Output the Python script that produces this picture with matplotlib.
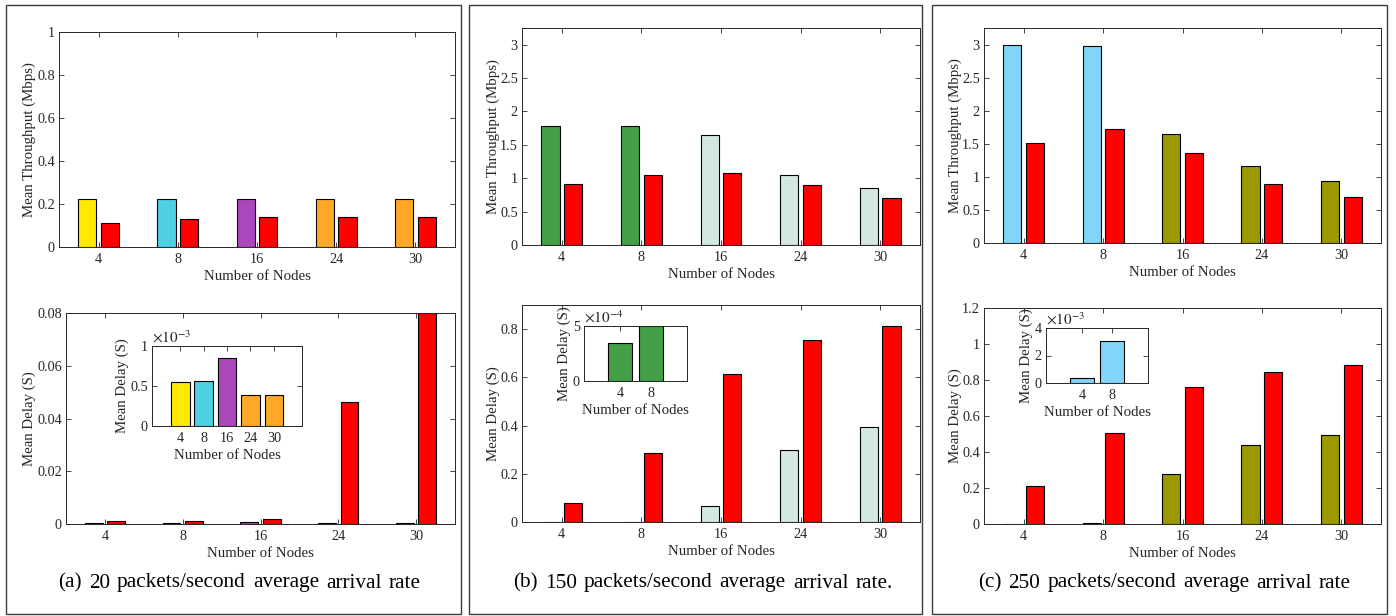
import matplotlib
matplotlib.use('Agg')
import matplotlib.pyplot as plt
import numpy as np
from matplotlib.patches import Rectangle
from matplotlib.ticker import FuncFormatter

# ---------------- data ----------------
nodes = ['4', '8', '16', '24', '30']

# (a) 20 packets/s
thr_a_col = [0.222, 0.222, 0.222, 0.222, 0.222]
thr_a_red = [0.113, 0.132, 0.138, 0.138, 0.141]
dly_a_col = [0.556e-3, 0.564e-3, 0.855e-3, 0.390e-3, 0.382e-3]
dly_a_red = [0.00114, 0.0013, 0.0018, 0.0463, 0.080]
col_a = ['#FFE900', '#4DD0E1', '#AB47BC', '#FFA726', '#FFA726']

# (b) 150 packets/s
thr_b_col = [1.784, 1.784, 1.654, 1.051, 0.857]
thr_b_red = [0.912, 1.041, 1.071, 0.892, 0.698]
dly_b_col = [3.5e-4, 5.0e-4, 0.066, 0.300, 0.396]
dly_b_red = [0.079, 0.288, 0.615, 0.753, 0.814]
col_b = ['#43A047', '#43A047', '#D3E8E2', '#D3E8E2', '#D3E8E2']

# (c) 250 packets/s
thr_c_col = [2.995, 2.980, 1.651, 1.168, 0.931]
thr_c_red = [1.510, 1.726, 1.364, 0.896, 0.700]
dly_c_col = [0.39e-3, 3.07e-3, 0.278, 0.439, 0.494]
dly_c_red = [0.209, 0.507, 0.761, 0.843, 0.881]
col_c = ['#81D4FA', '#81D4FA', '#999900', '#999900', '#999900']

red = '#FF0000'

captions = ['(a) 20 packets/second average arrival rate',
            '(b) 150 packets/second average arrival rate.',
            '(c) 250 packets/second average arrival rate']

# ---------------- style ----------------
plt.rcParams['font.family'] = ['Liberation Serif', 'DejaVu Serif']
plt.rcParams['mathtext.fontset'] = 'stix'
TXT = '#262626'

W, H = 1396, 616
fig = plt.figure(figsize=(W / 100, H / 100), dpi=100)


def rect(x0, y0, x1, y1):
    return [x0 / W, 1 - y1 / H, (x1 - x0) / W, (y1 - y0) / H]


def style(ax):
    ax.tick_params(direction='in', top=True, right=True, length=3.6, width=0.6,
                   labelsize=10.3, colors=TXT)
    ax.tick_params(axis='x', pad=4.5)
    ax.tick_params(axis='y', pad=3)
    for s in ax.spines.values():
        s.set_linewidth(0.7)
        s.set_color(TXT)
    ax.yaxis.set_major_formatter(FuncFormatter(lambda v, p: f'{v:g}'))


def labels(ax, ylabel, ylx):
    ax.set_xlabel('Number of Nodes', fontsize=10.7, color=TXT, labelpad=2.5)
    ax.set_ylabel(ylabel, fontsize=10.7, color=TXT)
    ax.yaxis.set_label_coords(ylx, 0.5)
    ax.yaxis.label.set_verticalalignment('center')


def grouped(box, col, rd, colors, ylim, yticks, ylabel, ylx):
    ax = fig.add_axes(rect(*box))
    x = np.arange(1, len(nodes) + 1)
    w, off = 0.2286, 0.143
    ax.bar(x - off, col, w, color=colors, edgecolor='black', linewidth=0.8, zorder=2)
    ax.bar(x + off, rd, w, color=red, edgecolor='black', linewidth=0.8, zorder=2)
    ax.set_xlim(0.5, 5.5)
    ax.set_ylim(*ylim)
    ax.set_yticks(yticks)
    ax.set_xticks(x)
    ax.set_xticklabels(nodes)
    style(ax)
    labels(ax, ylabel, ylx)
    return ax


def inset(box, vals, colors, xl, ylim, yticks, scale, exp, ylx):
    ax = fig.add_axes(rect(*box))
    x = np.arange(1, len(vals) + 1)
    ax.bar(x, vals, 0.8, color=colors, edgecolor='black', linewidth=0.8, zorder=2)
    ax.set_xlim(-0.2, len(vals) + 1.2)
    ax.set_ylim(*ylim)
    ax.set_yticks(yticks)
    ax.set_xticks(x)
    ax.set_xticklabels(xl)
    style(ax)
    ax.yaxis.set_major_formatter(FuncFormatter(lambda v, p: f'{v / scale:g}'))
    labels(ax, 'Mean Delay (S)', ylx)
    ax.text(0.0, 1.01, r'$\times10^{%d}$' % exp, transform=ax.transAxes,
            fontsize=11, color=TXT, ha='left', va='bottom')
    return ax


# panel frames
for x0, x1 in [(6, 461), (469, 922), (932, 1387)]:
    fig.patches.append(Rectangle((x0 / W, 1 - 614 / H), (x1 - x0) / W, (614 - 5) / H,
                                 transform=fig.transFigure, fill=False,
                                 edgecolor='#3a3a3a', linewidth=1.0))

# (a)
grouped((59, 32, 455, 247), thr_a_col, thr_a_red, col_a, (0, 1),
        [0, 0.2, 0.4, 0.6, 0.8, 1], 'Mean Throughput (Mbps)', -0.076)
grouped((66, 313, 455, 524), dly_a_col, dly_a_red, col_a, (0, 0.08),
        [0, 0.02, 0.04, 0.06, 0.08], 'Mean Delay (S)', -0.095)
inset((152, 346, 302, 426), dly_a_col, col_a, nodes, (0, 1e-3),
      [0, 0.5e-3, 1e-3], 1e-3, -3, -0.2)

# (b)
grouped((522, 28, 920, 245), thr_b_col, thr_b_red, col_b, (0, 3.25),
        [0, 0.5, 1, 1.5, 2, 2.5, 3], 'Mean Throughput (Mbps)', -0.073)
grouped((522, 305, 920, 522), dly_b_col, dly_b_red, col_b, (0, 0.9),
        [0, 0.2, 0.4, 0.6, 0.8], 'Mean Delay (S)', -0.073)
inset((584, 326, 687, 381), dly_b_col[:2], col_b[:2], nodes[:2], (0, 5e-4),
      [0, 5e-4], 1e-4, -4, -0.19)

# (c)
grouped((984, 28, 1381, 243), thr_c_col, thr_c_red, col_c, (0, 3.25),
        [0, 0.5, 1, 1.5, 2, 2.5, 3], 'Mean Throughput (Mbps)', -0.073)
grouped((984, 308, 1381, 524), dly_c_col, dly_c_red, col_c, (0, 1.2),
        [0, 0.2, 0.4, 0.6, 0.8, 1, 1.2], 'Mean Delay (S)', -0.073)
inset((1046, 328, 1148, 383), dly_c_col[:2], col_c[:2], nodes[:2], (0, 4e-3),
      [0, 2e-3, 4e-3], 1e-3, -3, -0.19)

# captions, justified between the given pixel extents
fig.canvas.draw()
renderer = fig.canvas.get_renderer()
for cap, (cx0, cx1) in zip(captions, [(58, 421), (513, 893), (978, 1351)]):
    words = cap.split(' ')
    texts = [fig.text(0, 1 - 583 / H, w_, fontsize=15.3, color='black',
                      ha='left', va='center') for w_ in words]
    widths = [t.get_window_extent(renderer).width for t in texts]
    gap = (cx1 - cx0 - sum(widths)) / (len(words) - 1)
    xpos = cx0
    for t, wd in zip(texts, widths):
        t.set_x(xpos / W)
        xpos += wd + gap

fig.savefig('out.png', dpi=100)
